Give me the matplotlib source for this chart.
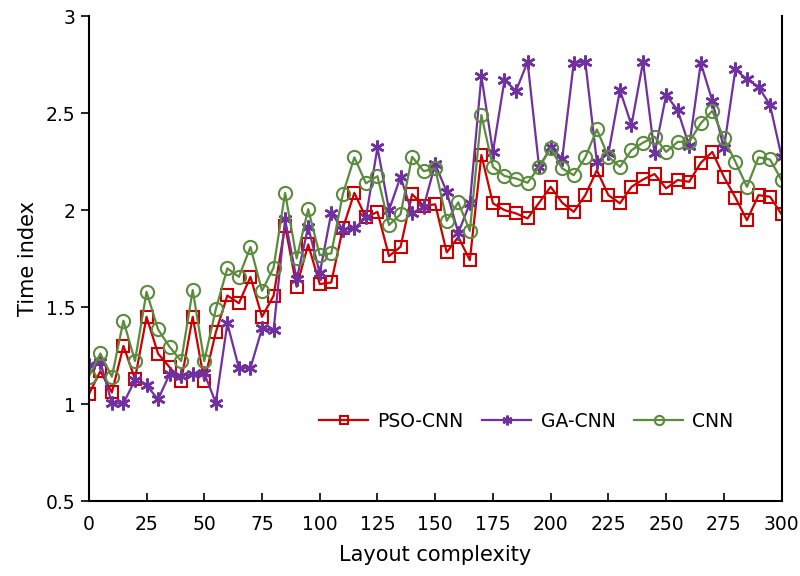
import numpy as np
import matplotlib
matplotlib.use('Agg')
import matplotlib.pyplot as plt

# 数据: 横轴每隔 5 取一个点
x = list(range(0, 301, 5))

pso_cnn = [1.05, 1.17, 1.06, 1.30, 1.13, 1.45, 1.26, 1.19, 1.12, 1.45,
           1.12, 1.37, 1.56, 1.52, 1.656, 1.45, 1.558, 1.918, 1.605, 1.823,
           1.619, 1.627, 1.906, 2.089, 1.962, 1.991, 1.763, 1.811, 2.082, 2.022,
           2.03, 1.782, 1.862, 1.742, 2.284, 2.035, 2.00, 1.983, 1.957, 2.038,
           2.12, 2.038, 1.991, 2.077, 2.206, 2.077, 2.035, 2.12, 2.158, 2.186,
           2.112, 2.155, 2.146, 2.244, 2.30, 2.172, 2.065, 1.948, 2.077, 2.069,
           1.979]

ga_cnn = [1.20, 1.218, 1.004, 1.004, 1.124, 1.098, 1.024, 1.155, 1.146, 1.155,
          1.158, 1.007, 1.416, 1.186, 1.186, 1.39, 1.38, 1.952, 1.643, 1.914,
          1.674, 1.986, 1.90, 1.906, 1.962, 2.323, 2.00, 2.172, 1.983, 2.017,
          2.237, 2.094, 1.883, 2.035, 2.691, 2.30, 2.67, 2.615, 2.764, 2.22,
          2.323, 2.266, 2.759, 2.764, 2.249, 2.292, 2.619, 2.438, 2.764, 2.292,
          2.593, 2.515, 2.33, 2.759, 2.563, 2.318, 2.725, 2.674, 2.636, 2.541,
          2.275]

cnn = [1.141, 1.261, 1.141, 1.43, 1.222, 1.579, 1.385, 1.295, 1.222, 1.588,
       1.222, 1.49, 1.70, 1.656, 1.81, 1.584, 1.703, 2.089, 1.751, 2.005,
       1.768, 1.777, 2.082, 2.272, 2.138, 2.175, 1.923, 1.979, 2.275, 2.201,
       2.215, 1.945, 2.04, 1.893, 2.49, 2.223, 2.176, 2.163, 2.141, 2.223,
       2.318, 2.215, 2.18, 2.272, 2.416, 2.275, 2.223, 2.309, 2.348, 2.378,
       2.30, 2.352, 2.352, 2.447, 2.512, 2.37, 2.249, 2.12, 2.272, 2.261,
       2.155]

red = '#cc0000'
purple = '#7030a0'
green = '#5b8c3e'

fig = plt.figure(figsize=(8, 5.76), dpi=100)
ax = fig.add_axes([0.111, 0.130, 0.866, 0.842])

ax.plot(x, pso_cnn, color=red, linewidth=1.6, marker='s', markersize=9,
        markerfacecolor='none', markeredgewidth=1.5, label='PSO-CNN')
ax.plot(x, ga_cnn, color=purple, linewidth=1.6, marker=(6, 2, 0), markersize=10,
        markeredgewidth=1.8, label='GA-CNN')
ax.plot(x, cnn, color=green, linewidth=1.6, marker='o', markersize=9.5,
        markerfacecolor='none', markeredgewidth=1.5, label='CNN')

ax.set_xlim(0, 300)
ax.set_ylim(0.5, 3)
ax.set_xticks(range(0, 301, 25))
ax.set_yticks([0.5, 1, 1.5, 2, 2.5, 3])
ax.set_yticklabels(['0.5', '1', '1.5', '2', '2.5', '3'])

ax.spines['top'].set_visible(False)
for s in ['left', 'bottom', 'right']:
    ax.spines[s].set_linewidth(1.5)

ax.tick_params(axis='x', direction='in', length=6, width=1.2, labelsize=13.5, pad=10)
ax.tick_params(axis='y', direction='out', length=6, width=1.2, labelsize=13.5)

ax.set_xlabel('Layout complexity', fontsize=15, labelpad=8)
ax.set_ylabel('Time index', fontsize=15, labelpad=6)

ax.legend(loc='lower right', bbox_to_anchor=(0.955, 0.11), ncol=3, frameon=False,
          fontsize=13.5, handlelength=2.6, columnspacing=1.0, handletextpad=0.5,
          markerscale=0.7)

plt.savefig('out.png', dpi=100)
